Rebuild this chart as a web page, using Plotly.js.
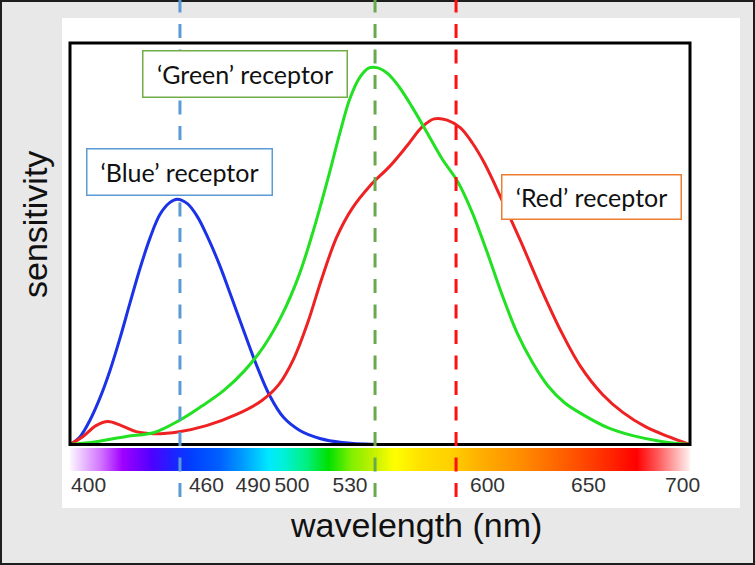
<!DOCTYPE html>
<html><head><meta charset="utf-8">
<script src="https://cdn.plot.ly/plotly-3.0.1.min.js"></script>
<style>html,body{margin:0;padding:0;background:#e8e8e8;}#chart{width:755px;height:565px;}</style>
</head><body><div id="chart"></div>
<script>
// Receptor sensitivity curves (wavelength in nm, relative sensitivity)
const blueWl = [400, 404.8, 409.7, 414.5, 419.4, 424.2, 429.0, 433.9, 438.7, 443.5, 448.4, 451.8, 456.8, 461.7, 467.0, 472.3, 478.2, 484.0, 490.3, 496.6, 503.4, 511.2, 520.9, 531.6, 548.5, 556];
const blueS  = [0, 0.019, 0.061, 0.116, 0.185, 0.265, 0.352, 0.439, 0.514, 0.573, 0.603, 0.611, 0.600, 0.567, 0.512, 0.448, 0.366, 0.284, 0.197, 0.122, 0.067, 0.035, 0.015, 0.005, 0, 0];

const greenWl = [400, 412.6, 427.2, 440.8, 452.9, 463.6, 474.3, 484.5, 493.7, 502.4, 510.7, 518.0, 524.8, 530.6, 535.4, 540.3, 544.7, 549.0, 553.9, 559.2, 565.5, 572.3, 580.1, 587.9, 594.7, 601.9, 609.2, 616.5, 623.8, 631.1, 639.3, 649.0, 660.2, 672.3, 686.9, 700];
const greenS  = [0, 0.007, 0.020, 0.030, 0.060, 0.095, 0.134, 0.184, 0.244, 0.321, 0.420, 0.537, 0.662, 0.776, 0.861, 0.915, 0.938, 0.938, 0.923, 0.891, 0.841, 0.781, 0.711, 0.652, 0.577, 0.478, 0.371, 0.276, 0.204, 0.147, 0.104, 0.072, 0.042, 0.022, 0.007, 0];

const redWl = [400, 406.3, 412.6, 418.4, 424.8, 432.0, 440.3, 452.9, 466.0, 480.6, 492.7, 501.0, 508.3, 515.0, 521.8, 529.1, 536.4, 545.1, 554.9, 563.1, 570.4, 576.2, 582.5, 588.8, 594.7, 600.5, 609.2, 618.0, 627.7, 637.4, 647.1, 657.8, 667.5, 678.2, 689.3, 700];
const redS  = [0, 0.020, 0.047, 0.057, 0.047, 0.032, 0.027, 0.032, 0.047, 0.075, 0.109, 0.149, 0.214, 0.303, 0.413, 0.517, 0.587, 0.644, 0.694, 0.744, 0.791, 0.811, 0.808, 0.789, 0.751, 0.701, 0.607, 0.507, 0.391, 0.284, 0.194, 0.124, 0.080, 0.045, 0.020, 0];

// Dashed marker wavelengths (blue, green, red)
const peakWl = [453.2, 547.6, 586.8];
const peakColors = ['#5b9bd5', '#6aa84f', '#ff1010'];

// Tick labels under the spectrum bar
const tickPos  = [409.0, 466.0, 488.6, 507.4, 535.5, 602.0, 650.9, 696.4];
const tickText = ['400', '460', '490', '500', '530', '600', '650', '700'];

// Spectrum bar colour stops
const spectrumWl = [400, 415, 425, 439, 449, 459, 472, 484, 496, 502, 514, 525, 536, 546, 557, 570, 584, 598, 619, 643, 663, 674, 685, 700];
const spectrumColors = ['#fbf4ff', '#d070ff', '#a000ff', '#5000ff', '#2020ff', '#0040ff', '#0060ff', '#00a0ff', '#00e8ff', '#00f0e0', '#00f080', '#00e000', '#80f000', '#c0f000', '#ffff00', '#ffe000', '#ffd000', '#ffb000', '#ff8a00', '#ff5500', '#ff2000', '#ff0000', '#ff6060', '#fff4f4'];

const receptorLabels = ['‘Blue’ receptor', '‘Green’ receptor', '‘Red’ receptor'];
const labelBorders = ['#5b9bd5', '#70ad47', '#ed7d31'];

const lineColors = ['#1b33e6', '#22e022', '#ee2222'];

const traces = [
  {type: 'heatmap', x: spectrumWl, y: [0, 1], z: [spectrumWl, spectrumWl], zsmooth: 'best',
   colorscale: spectrumWl.map((w, i) => [(w - 400) / 300, spectrumColors[i]]),
   zmin: 400, zmax: 700, showscale: false, xaxis: 'x', yaxis: 'y2', hoverinfo: 'skip'},
  {type: 'scatter', mode: 'lines', x: blueWl, y: blueS, line: {color: lineColors[0], width: 3, shape: 'spline'}, xaxis: 'x', yaxis: 'y'},
  {type: 'scatter', mode: 'lines', x: redWl, y: redS, line: {color: lineColors[2], width: 3, shape: 'spline'}, xaxis: 'x', yaxis: 'y'},
  {type: 'scatter', mode: 'lines', x: greenWl, y: greenS, line: {color: lineColors[1], width: 3, shape: 'spline'}, xaxis: 'x', yaxis: 'y'}
];

// geometry helpers (plot area: l=70, width 620; t=43, height 428)
const W = 620, H = 428;
const px = v => (v - 70) / W;
const py = v => (471 - v) / H;

const shapes = [
  {type: 'rect', xref: 'paper', yref: 'paper', x0: px(62), x1: px(740), y0: py(508), y1: py(18), fillcolor: '#ffffff', line: {width: 0}, layer: 'below'},
  {type: 'rect', xref: 'paper', yref: 'paper', x0: px(0), x1: px(755), y0: py(565), y1: py(0), fillcolor: 'rgba(0,0,0,0)', line: {color: '#1e1e1e', width: 4}, layer: 'below'},
  {type: 'rect', xref: 'x domain', yref: 'y domain', x0: 0, x1: 1, y0: 0, y1: 1, line: {color: '#000', width: 3}, layer: 'above'}
];
peakWl.forEach((w, i) => shapes.push({
  type: 'line', xref: 'x', yref: 'paper', x0: w, x1: w, y0: py(497), y1: py(0),
  line: {color: peakColors[i], width: 3, dash: '14px,11.5px'}, layer: 'above'
}));

const boxFont = {family: 'Lato, Open Sans, sans-serif', size: 25, color: '#111'};
const titleFont = {family: 'Liberation Sans, Arial, sans-serif', size: 34, color: '#111'};
const annotations = [
  {xref: 'paper', yref: 'paper', x: px(86), y: py(148), xanchor: 'left', yanchor: 'top', text: receptorLabels[0], showarrow: false,
   width: 184, height: 45, borderwidth: 1.5, borderpad: 0, bordercolor: labelBorders[0], bgcolor: '#fff', font: boxFont},
  {xref: 'paper', yref: 'paper', x: px(142), y: py(50), xanchor: 'left', yanchor: 'top', text: receptorLabels[1], showarrow: false,
   width: 203, height: 45, borderwidth: 1.5, borderpad: 0, bordercolor: labelBorders[1], bgcolor: '#fff', font: boxFont},
  {xref: 'paper', yref: 'paper', x: px(501), y: py(174), xanchor: 'left', yanchor: 'top', text: receptorLabels[2], showarrow: false,
   width: 178, height: 43, borderwidth: 1.5, borderpad: 0, bordercolor: labelBorders[2], bgcolor: '#fff', font: boxFont},
  {xref: 'paper', yref: 'paper', x: px(416), y: py(525), xanchor: 'center', yanchor: 'middle', text: 'wavelength (nm)', showarrow: false, font: titleFont},
  {xref: 'paper', yref: 'paper', x: px(35), y: py(225), xanchor: 'center', yanchor: 'middle', text: 'sensitivity', textangle: -90, showarrow: false, font: titleFont}
];

const layout = {
  width: 755, height: 565,
  margin: {l: 70, r: 65, t: 43, b: 94, pad: 0},
  paper_bgcolor: '#e8e8e8', plot_bgcolor: '#ffffff',
  showlegend: false,
  xaxis: {range: [400, 700], anchor: 'y2', tickmode: 'array', tickvals: tickPos, ticktext: tickText, ticks: '',
          tickangle: 0, showline: false, showgrid: false, zeroline: false, ticklabelstandoff: -1,
          tickfont: {family: 'Liberation Sans, Arial, sans-serif', size: 21, color: '#333'}},
  yaxis: {domain: [0.0619, 1], range: [0, 1], visible: false, anchor: 'x'},
  yaxis2: {domain: [0, 0.0537], range: [0, 1], visible: false, anchor: 'x'},
  shapes: shapes,
  annotations: annotations
};

Plotly.newPlot('chart', traces, layout, {staticPlot: true, displayModeBar: false});
</script></body></html>
